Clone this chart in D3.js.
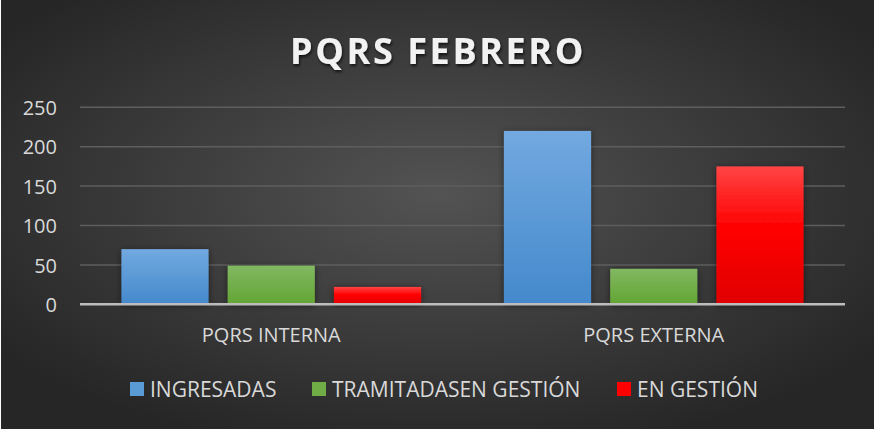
<!DOCTYPE html>
<html><head><meta charset="utf-8">
<script src="https://cdn.jsdelivr.net/npm/d3@7"></script>
<style>html,body{margin:0;padding:0;background:#fff;}svg{display:block;}</style>
</head><body>
<script>
const categories = ["PQRS INTERNA", "PQRS EXTERNA"];
const seriesNames = ["INGRESADAS", "TRAMITADASEN GESTIÓN", "EN GESTIÓN"];
const ingresadas = [70, 220];
const tramitadas = [49, 45];
const enGestion = [22, 175];
const yTicks = [0, 50, 100, 150, 200, 250];
const title = "PQRS FEBRERO";

const seriesValues = [ingresadas, tramitadas, enGestion];
const W = 874, H = 429;
const FONT = "'Open Sans', sans-serif";
const svg = d3.select("body").append("svg").attr("width", W).attr("height", H);
const defs = svg.append("defs");

const bg = defs.append("radialGradient").attr("id","bg").attr("cx","50%").attr("cy","45%").attr("r","62%");
bg.append("stop").attr("offset","0%").attr("stop-color","#535353");
bg.append("stop").attr("offset","100%").attr("stop-color","#262626");

const grads = [
  ["gBlue", [["0%","#72a9e0"],["100%","#4489cc"]]],
  ["gGreen", [["0%","#82b862"],["100%","#62a533"]]],
  ["gRed", [["0%","#ff4444"],["45%","#ff0000"],["100%","#e00000"]]]
];
grads.forEach(([id, stops]) => {
  const g = defs.append("linearGradient").attr("id", id).attr("x1",0).attr("y1",0).attr("x2",0).attr("y2",1);
  stops.forEach(s => g.append("stop").attr("offset", s[0]).attr("stop-color", s[1]));
});
const shadow = defs.append("filter").attr("id","sh").attr("x","-20%").attr("y","-20%").attr("width","140%").attr("height","140%");
shadow.append("feDropShadow").attr("dx",0).attr("dy",1).attr("stdDeviation",3).attr("flood-color","#000").attr("flood-opacity",0.5);
const tsh = defs.append("filter").attr("id","tsh").attr("x","-10%").attr("y","-20%").attr("width","120%").attr("height","150%");
tsh.append("feDropShadow").attr("dx",1).attr("dy",2).attr("stdDeviation",1.5).attr("flood-color","#000").attr("flood-opacity",0.7);

svg.append("rect").attr("x",1).attr("y",0).attr("width",W-1).attr("height",H).attr("fill","url(#bg)");

const colors = ["url(#gBlue)","url(#gGreen)","url(#gRed)"];
const legendColors = ["#5b9bd5","#70ad47","#ff0000"];

const x0 = d3.scaleBand().domain(categories).range([80, 845]).paddingInner(0).paddingOuter(0);
const x1 = d3.scaleBand().domain(seriesNames).range([0, x0.bandwidth()]).paddingInner(0.18).paddingOuter(0.39);
const y = d3.scaleLinear().domain([0, 250]).range([304.3, 107.3]);

// title
svg.append("text").attr("x", 438).attr("y", 64).attr("text-anchor","middle")
  .attr("font-family",FONT).attr("font-weight","bold").attr("font-size", 36)
  .attr("letter-spacing", 2.6).attr("fill","#f2f2f2").attr("filter","url(#tsh)").text(title);

// gridlines
svg.append("g").selectAll("line").data(yTicks.filter(d => d > 0)).join("line")
  .attr("x1", 80).attr("x2", 845).attr("y1", d => y(d)).attr("y2", d => y(d))
  .attr("stroke","#5e5e5e").attr("stroke-width",1.5);

// y axis labels
const yAxis = d3.axisLeft(y).tickValues(yTicks).tickSize(0).tickPadding(0);
const ya = svg.append("g").attr("transform","translate(57,0)").call(yAxis);
ya.select(".domain").remove();
ya.selectAll("text").attr("font-family",FONT).attr("font-size",20).attr("fill","#d9d9d9").attr("dy","0.36em");

// bars
const groups = svg.append("g").selectAll("g").data(categories).join("g")
  .attr("transform", d => `translate(${x0(d)},0)`);
groups.selectAll("rect").data((c, ci) => seriesNames.map((s, si) => ({s, si, v: seriesValues[si][ci]}))).join("rect")
  .attr("x", d => x1(d.s)).attr("width", x1.bandwidth())
  .attr("y", d => y(d.v)).attr("height", d => y(0) - y(d.v))
  .attr("fill", d => colors[d.si]).attr("filter","url(#sh)");

// baseline
svg.append("line").attr("x1",80).attr("x2",845).attr("y1",y(0)).attr("y2",y(0))
  .attr("stroke","#bdbdbd").attr("stroke-width",2.5);

// x axis labels
const xAxis = d3.axisBottom(x0).tickSize(0).tickPadding(0);
const xa = svg.append("g").attr("transform", "translate(0,335)").call(xAxis);
xa.select(".domain").remove();
xa.selectAll("text").attr("font-family",FONT).attr("font-size",20).attr("fill","#d9d9d9").attr("dy","0.36em");

// legend
const legendX = [130, 312, 617];
const lg = svg.append("g").selectAll("g").data(seriesNames).join("g")
  .attr("transform", (d,i) => `translate(${legendX[i]},382)`);
lg.append("rect").attr("width",14).attr("height",14).attr("fill",(d,i)=>legendColors[i]);
lg.append("text").attr("x",20).attr("y",14.5).attr("font-family",FONT).attr("font-size",21)
  .attr("fill","#d9d9d9").text(d => d);
</script>
</body></html>
